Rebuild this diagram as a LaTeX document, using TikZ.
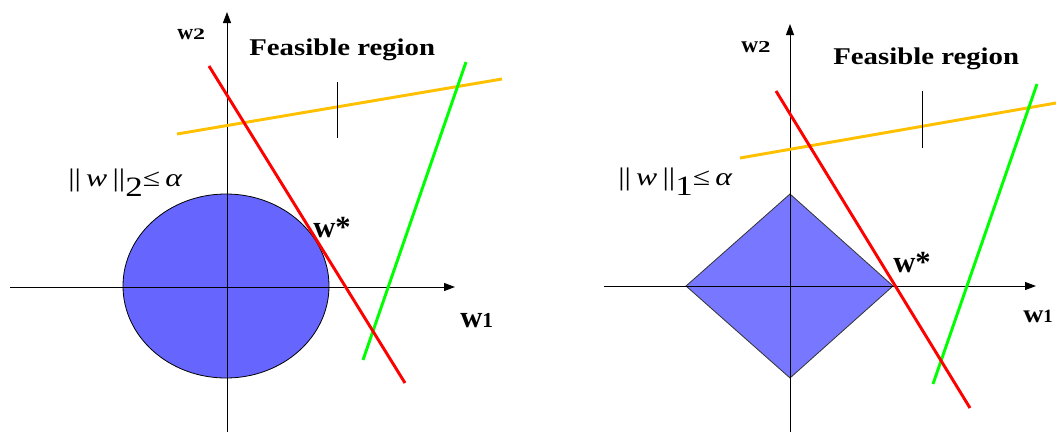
\documentclass[tikz,border=0pt]{standalone}
\usepackage{fontspec}
\setmainfont{Liberation Serif}
\usepackage{graphicx}
\usetikzlibrary{arrows.meta}
\definecolor{ballblue}{RGB}{102,102,255}
\definecolor{diamblue}{RGB}{119,119,255}
\definecolor{cyel}{RGB}{255,192,0}
\definecolor{cgreen}{RGB}{0,255,0}
\definecolor{cred}{RGB}{255,0,0}
\newcommand{\sx}[2]{\scalebox{#1}[1]{#2}}
\begin{document}
\begin{tikzpicture}[x=0.75pt,y=-0.75pt,
  axis/.style={line width=0.75pt,-{Triangle[length=8.25pt,width=6pt]}},
  cline/.style={line width=2.2pt},
  tickmark/.style={line width=0.75pt},
  shapeline/.style={line width=0.6pt},
  txt/.style={inner sep=0pt, anchor=base west},
  feas/.style={txt,font=\fontsize{18}{20}\selectfont\bfseries},
  wstar/.style={txt,font=\fontsize{23}{26}\selectfont\bfseries},
  normlbl/.style={txt,font=\fontsize{19}{21}\selectfont},
  axlbl/.style={txt,font=\bfseries},
]
\useasboundingbox (0,0) rectangle (1056,432);
% ---------------- LEFT PANEL ----------------
\coordinate (LC) at (226,286);
\filldraw[fill=ballblue,draw=black,shapeline] (LC) ellipse [x radius=77.25pt,y radius=69pt];
\coordinate (LXa) at (10,287);
\coordinate (LXb) at (455,287);
\coordinate (LYa) at (227,432);
\coordinate (LYb) at (227,12);
\draw[axis] (LXa) -- (LXb);
\draw[axis] (LYa) -- (LYb);
\coordinate (LYela) at (177,134);
\coordinate (LYelb) at (502,79);
\coordinate (LGra) at (363,360);
\coordinate (LGrb) at (466,62);
\coordinate (LRda) at (209,66);
\coordinate (LRdb) at (405,383);
\coordinate (LTka) at (337,82);
\coordinate (LTkb) at (337,138);
\draw[cline,cyel] (LYela) -- (LYelb);
\draw[cline,cgreen] (LGra) -- (LGrb);
\draw[cline,cred] (LRda) -- (LRdb);
\draw[tickmark] (LTka) -- (LTkb);
\node[axlbl] (lw2) at (177,39) {\fontsize{16.5}{16}\selectfont w\fontsize{12}{12}\selectfont\sx{1.5}{2}};
\node[axlbl] (lw1) at (460,327) {\fontsize{23}{23}\selectfont w\fontsize{16}{16}\selectfont 1};
\node[feas] (lfeas) at (249,55) {\sx{1.2}{Feasible region}};
\node[wstar] (lws) at (313,237) {w*};
\node[normlbl] (lnorm) at (68,186) {\sx{1.25}{||\,\textit{w}\,||\raisebox{-8pt}{\fontsize{21}{21}\selectfont 2}≤\,\textit{α}}};
% ---------------- RIGHT PANEL ----------------
\coordinate (RC) at (790,286);
\coordinate (RDl) at (686,286);
\coordinate (RDt) at (790,194);
\coordinate (RDr) at (893,286);
\coordinate (RDb) at (790,378);
\filldraw[fill=diamblue,draw=black!80,shapeline] (RDl) -- (RDt) -- (RDr) -- (RDb) -- cycle;
\coordinate (RXa) at (604,286);
\coordinate (RXb) at (1036,286);
\coordinate (RYa) at (790,432);
\coordinate (RYb) at (790,24);
\draw[axis] (RXa) -- (RXb);
\draw[axis] (RYa) -- (RYb);
\coordinate (RYela) at (740,158);
\coordinate (RYelb) at (1056,103);
\coordinate (RGra) at (933,384);
\coordinate (RGrb) at (1037,84);
\coordinate (RRda) at (776,91);
\coordinate (RRdb) at (970,408);
\coordinate (RTka) at (922,91);
\coordinate (RTkb) at (922,148);
\draw[cline,cyel] (RYela) -- (RYelb);
\draw[cline,cgreen] (RGra) -- (RGrb);
\draw[cline,cred] (RRda) -- (RRdb);
\draw[tickmark] (RTka) -- (RTkb);
\node[axlbl] (rw2) at (741,52) {\fontsize{17.5}{17}\selectfont w\fontsize{12.5}{12}\selectfont\sx{1.5}{2}};
\node[axlbl] (rw1) at (1023,322) {\fontsize{19}{19}\selectfont\sx{1.1}{w}\fontsize{14}{14}\selectfont 1};
\node[feas] (rfeas) at (833,64) {\sx{1.2}{Feasible region}};
\node[wstar] (rws) at (893,272) {w*};
\node[normlbl] (rnorm) at (618,185) {\sx{1.25}{||\,\textit{w}\,||\raisebox{-8pt}{\fontsize{21}{21}\selectfont 1}≤\,\textit{α}}};
\end{tikzpicture}
\end{document}
